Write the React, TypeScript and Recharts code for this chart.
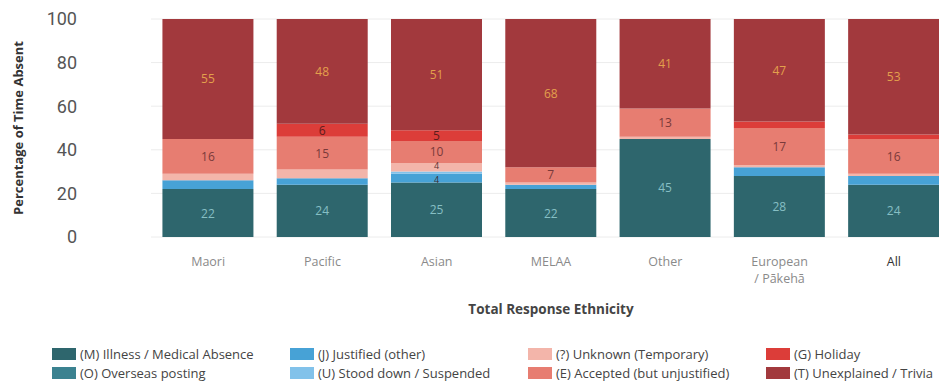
import React from "react";
import {Bar, BarChart, CartesianGrid, Label, LabelList, XAxis, YAxis} from "recharts";

const categories = ["Maori", "Pacific", "Asian", "MELAA", "Other", "European / Pākehā", "All"];

// percentage of time absent, by absence code
const illness = [22, 24, 25, 22, 45, 28, 24];
const overseas = [0, 0, 0, 0, 0, 0, 0];
const justified = [4, 3, 4, 2, 0, 4, 4];
const stoodDown = [0, 0, 1, 0, 0, 0, 0];
const unknown = [3, 4, 4, 1, 1, 1, 1];
const accepted = [16, 15, 10, 7, 13, 17, 16];
const holiday = [0, 6, 5, 0, 0, 3, 2];
const unexplained = [55, 48, 51, 68, 41, 47, 53];

const yTicks = [0, 20, 40, 60, 80, 100];

// small segments that still get a value label
const smallLabels = [["Asian", "justified"], ["Asian", "unknown"]];

const series = [
    {key: "illness", name: "(M) Illness / Medical Absence", color: "#2e666d", label: "#86bfc4"},
    {key: "overseas", name: "(O) Overseas posting", color: "#3b8290", label: "#d9eef0"},
    {key: "justified", name: "(J) Justified (other)", color: "#47a2d6", label: "#3b2f33"},
    {key: "stoodDown", name: "(U) Stood down / Suspended", color: "#82c2ea", label: "#3b2f33"},
    {key: "unknown", name: "(?) Unknown (Temporary)", color: "#f3b5aa", label: "#5a3434"},
    {key: "accepted", name: "(E) Accepted (but unjustified)", color: "#e77d71", label: "#7a3a3a"},
    {key: "holiday", name: "(G) Holiday", color: "#dc3d39", label: "#5a1c1c"},
    {key: "unexplained", name: "(T) Unexplained / Trivia", color: "#a2393d", label: "#e3a04c"},
];

const values: Record<string, number[]> = {
    illness, overseas, justified, stoodDown, unknown, accepted, holiday, unexplained,
};

const data = categories.map((category, i) => {
    const row: Record<string, any> = {category};
    series.forEach(s => { row[s.key] = values[s.key][i]; });
    return row;
});

const FONT = "'Open Sans', 'Noto Sans', sans-serif";

const isSmall = (key: string, index: number) =>
    smallLabels.some(([c, k]) => c === categories[index] && k === key);

const segmentLabel = (key: string, fill: string) => (props: any) => {
    const {x, y, width, height, value, index} = props;
    if (!value) return null;
    const small = isSmall(key, index);
    if (value < 5 && !small) return null;
    // spread the two tiny labels apart a little
    const nudge = small ? (key === "unknown" ? -1.5 : 1.5) : 0;
    return (
        <text x={x + width / 2} y={y + height / 2 + nudge} textAnchor="middle" dominantBaseline="central"
              fill={fill} fontSize={small ? 9 : 12} fontFamily={FONT}>
            {value}
        </text>
    );
};

const CategoryTick = (props: any) => {
    const {x, y, payload} = props;
    const parts = String(payload.value).split(" / ");
    const lines = parts.length > 1 ? [parts[0], "/ " + parts[1]] : parts;
    const fill = payload.value === "All" ? "#333" : "#8a8a8a";
    return (
        <text x={x} y={y + 21} textAnchor="middle" fill={fill} fontSize={12.5} fontFamily={FONT}>
            {lines.map((l, i) => (
                <tspan key={i} x={x} dy={i === 0 ? 0 : 17}>{l}</tspan>
            ))}
        </text>
    );
};

const StackedAbsenceChart: React.FC = () => {
    const columns = [series.slice(0, 2), series.slice(2, 4), series.slice(4, 6), series.slice(6, 8)];
    return (
        <div style={{position: "absolute", left: 0, top: 0, width: 939, height: 383,
            overflow: "hidden", background: "#fff"}}>
            <BarChart width={960} height={330} data={data} barCategoryGap="10%"
                      margin={{top: 19, right: 9, left: 0, bottom: 0}}>
                <CartesianGrid vertical={false} stroke="#ececec" />
                <XAxis dataKey="category" axisLine={false} tickLine={false} interval={0}
                       height={93} tick={<CategoryTick />}>
                    <Label content={({viewBox}: any) => (
                        <text x={viewBox.x + viewBox.width / 2} y={viewBox.y + 72} textAnchor="middle"
                              dominantBaseline="central" fill="#444" fontSize={13.5} fontWeight={700}
                              fontFamily={FONT}>
                            Total Response Ethnicity
                        </text>
                    )} />
                </XAxis>
                <YAxis domain={[0, 100]} ticks={yTicks} width={151} axisLine={false} tickLine={false}
                       tickMargin={68} tick={{fill: "#555", fontSize: 18, fontFamily: "Roboto"}}>
                    <Label content={({viewBox}: any) => {
                        const cx = viewBox.x + 18;
                        const cy = viewBox.y + viewBox.height / 2;
                        return (
                            <text x={cx} y={cy} transform={`rotate(-90 ${cx} ${cy})`} textAnchor="middle"
                                  dominantBaseline="central" fill="#333" fontSize={13} fontWeight={700}
                                  fontFamily={FONT}>
                                Percentage of Time Absent
                            </text>
                        );
                    }} />
                </YAxis>
                {series.map(s => (
                    <Bar key={s.key} dataKey={s.key} name={s.name} stackId="a" fill={s.color}
                         isAnimationActive={false}>
                        <LabelList dataKey={s.key} content={segmentLabel(s.key, s.label)} />
                    </Bar>
                ))}
            </BarChart>
            {columns.map((col, ci) => (
                <div key={ci} style={{position: "absolute", left: 52 + ci * 238, top: 344}}>
                    {col.map(s => (
                        <div key={s.key} style={{display: "flex", alignItems: "center", height: 19,
                            fontFamily: FONT, fontSize: 13, color: "#444", whiteSpace: "nowrap"}}>
                            <span style={{display: "inline-block", width: 24, height: 12,
                                background: s.color, marginRight: 4, flexShrink: 0}} />
                            {s.name}
                        </div>
                    ))}
                </div>
            ))}
        </div>
    );
};

export default function App() {
    return <StackedAbsenceChart />;
}
